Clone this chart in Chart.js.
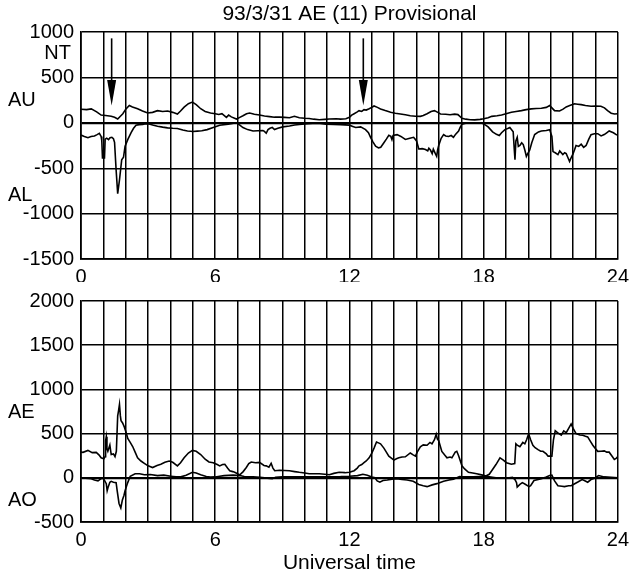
<!DOCTYPE html>
<html><head><meta charset="utf-8">
<script src="https://cdn.jsdelivr.net/npm/chart.js@4.4.1/dist/chart.umd.min.js"></script>
<style>
html,body{margin:0;padding:0;background:#fff;}
#wrap{position:relative;width:635px;height:574px;background:#fff;}
canvas{position:absolute;left:0;}
#c1{top:0;} #c2{top:282px;}
</style></head><body>
<div id="wrap"><canvas id="c1" width="635" height="282"></canvas><canvas id="c2" width="635" height="292"></canvas></div>
<script>
// ---------------- data ----------------
const titleText = '93/3/31 AE (11) Provisional';
const xTitle = 'Universal time';
const xTickLabels = [0, 6, 12, 18, 24];
const topYTicks = [-1500, -1000, -500, 0, 500, 1000];
const bottomYTicks = [-500, 0, 500, 1000, 1500, 2000];

const auTime = [0.0,0.25,0.46,0.7,0.9,1.1,1.35,1.5,1.64,1.75,1.87,2.0,2.16,2.3,2.53,2.75,2.98,3.2,3.42,3.65,3.87,4.1,4.31,4.45,4.61,4.8,4.98,5.15,5.35,5.55,5.79,6.0,6.16,6.3,6.5,6.6,6.72,6.95,7.1,7.24,7.4,7.54,7.75,7.98,8.2,8.43,8.65,8.88,9.1,9.32,9.54,9.76,10.0,10.2,10.4,10.65,10.9,11.1,11.4,11.6,11.84,12.0,12.1,12.21,12.35,12.43,12.55,12.65,12.75,12.88,13.0,13.1,13.25,13.39,13.6,13.84,14.05,14.28,14.5,14.72,14.95,15.17,15.3,15.47,15.65,15.8,15.95,16.07,16.3,16.5,16.7,16.85,17.03,17.2,17.4,17.6,17.84,18.0,18.2,18.36,18.6,18.8,19.0,19.24,19.45,19.69,19.9,20.13,20.35,20.58,20.8,20.95,21.05,21.17,21.39,21.55,21.69,21.85,22.06,22.2,22.36,22.55,22.8,23.0,23.24,23.4,23.54,23.7,23.85,24.0];
const auValues = [150,145,153,120,85,80,72,60,42,70,100,150,190,175,155,130,108,115,134,125,130,115,97,130,172,210,228,200,155,125,108,100,92,100,60,85,65,41,60,78,100,108,95,85,75,68,62,62,60,55,71,55,50,48,40,34,38,42,45,40,45,60,85,100,120,134,125,145,140,155,170,185,170,153,135,116,105,97,88,78,72,71,80,100,125,134,115,97,95,88,95,90,49,40,34,32,38,45,55,71,78,85,100,116,125,134,145,153,158,160,170,190,165,134,130,150,175,190,209,205,200,190,183,185,183,165,134,105,97,100];

const alTime = [0.0,0.15,0.31,0.45,0.6,0.72,0.82,0.9,0.93,0.96,1.05,1.08,1.15,1.23,1.3,1.38,1.45,1.5,1.57,1.64,1.72,1.82,1.9,1.97,2.1,2.24,2.35,2.46,2.6,2.76,2.9,3.05,3.2,3.42,3.65,3.87,4.1,4.31,4.55,4.76,5.0,5.2,5.4,5.64,5.91,6.2,6.58,6.95,7.1,7.24,7.45,7.69,7.9,8.13,8.2,8.28,8.36,8.45,8.55,8.65,8.8,9.02,9.32,9.55,9.76,10.0,10.36,10.6,10.95,11.3,11.6,12.0,12.15,12.28,12.5,12.72,12.85,12.95,13.05,13.17,13.3,13.4,13.54,13.65,13.76,13.85,13.9,13.95,14.13,14.3,14.5,14.7,14.87,15.0,15.1,15.25,15.4,15.5,15.55,15.62,15.7,15.75,15.84,15.9,15.94,15.99,16.1,16.21,16.3,16.43,16.55,16.65,16.75,16.88,16.95,17.03,17.2,17.54,17.9,18.05,18.2,18.4,18.57,18.7,18.8,18.95,19.1,19.17,19.32,19.37,19.4,19.44,19.5,19.55,19.62,19.7,19.77,19.84,19.91,19.97,20.06,20.15,20.28,20.45,20.58,20.8,20.95,21.05,21.1,21.2,21.32,21.4,21.54,21.62,21.69,21.76,21.84,21.92,21.99,22.06,22.13,22.25,22.36,22.47,22.58,22.7,22.8,22.95,23.1,23.25,23.39,23.5,23.61,23.8,23.96];
const alValues = [-135,-150,-164,-150,-145,-130,-116,-150,-200,-388,-388,-180,-170,-185,-165,-160,-175,-215,-519,-780,-630,-407,-380,-258,-180,-108,-60,-26,-20,-18,-10,-12,-25,-38,-48,-56,-60,-62,-80,-90,-95,-92,-88,-75,-52,-26,-15,0,-25,-52,-75,-90,-88,-85,-95,-115,-75,-60,-50,-75,-60,-45,-35,-25,-19,-12,-7,-5,-15,-18,-20,-26,-40,-52,-45,-75,-110,-164,-210,-258,-276,-270,-220,-180,-138,-150,-185,-140,-130,-150,-183,-170,-160,-200,-288,-285,-295,-310,-280,-300,-340,-290,-340,-370,-300,-250,-170,-130,-145,-150,-140,-160,-125,-90,-50,-15,-5,0,0,-20,-45,-100,-127,-140,-110,-75,-60,-52,-100,-300,-407,-200,-160,-260,-250,-220,-240,-300,-370,-340,-300,-220,-130,-100,-90,-85,-75,-150,-317,-330,-350,-310,-350,-330,-340,-380,-425,-380,-345,-300,-250,-260,-235,-270,-250,-180,-130,-120,-120,-145,-130,-110,-90,-110,-135];

const aeTime = [0.0,0.09,0.31,0.5,0.68,0.8,0.9,1.02,1.08,1.1,1.13,1.16,1.2,1.29,1.35,1.45,1.52,1.58,1.64,1.68,1.72,1.76,1.79,1.86,1.94,2.03,2.09,2.2,2.31,2.42,2.53,2.68,2.83,3.0,3.2,3.4,3.57,3.75,3.94,4.1,4.31,4.45,4.61,4.8,4.98,5.15,5.35,5.55,5.72,5.91,6.09,6.2,6.33,6.43,6.55,6.65,6.78,6.87,7.0,7.1,7.25,7.39,7.5,7.61,7.8,7.98,8.18,8.28,8.4,8.5,8.58,8.66,8.88,9.1,9.32,9.55,9.76,10.0,10.2,10.65,10.9,11.1,11.3,11.54,11.8,12.0,12.21,12.35,12.43,12.55,12.65,12.75,12.88,13.0,13.1,13.21,13.3,13.39,13.54,13.65,13.76,13.99,14.1,14.21,14.35,14.5,14.72,14.85,14.95,15.05,15.17,15.3,15.47,15.6,15.69,15.8,15.88,15.93,15.99,16.13,16.25,16.36,16.5,16.58,16.73,16.8,16.88,17.03,17.15,17.32,17.51,17.69,17.96,18.1,18.25,18.36,18.55,18.73,18.88,19.02,19.24,19.39,19.44,19.5,19.62,19.75,19.84,19.92,20.01,20.1,20.2,20.3,20.43,20.55,20.65,20.8,20.88,21.05,21.12,21.2,21.3,21.47,21.58,21.69,21.8,21.91,22.0,22.13,22.3,22.43,22.55,22.65,22.8,22.88,23.0,23.1,23.25,23.39,23.5,23.61,23.75,23.84,23.92,24.0];
const aeValues = [290,288,310,285,288,260,226,215,240,420,463,330,300,370,263,270,240,300,701,760,829,700,646,620,573,500,445,400,354,290,226,190,164,135,116,140,153,175,190,175,135,170,226,280,310,300,263,210,179,171,150,135,150,153,110,80,70,62,45,33,70,116,160,179,170,175,140,135,120,164,110,80,85,82,80,70,62,55,45,45,40,35,50,62,58,62,80,110,135,150,171,190,226,280,336,405,395,384,336,290,245,200,215,226,235,238,281,260,245,300,351,372,368,400,384,430,493,440,420,299,260,226,235,226,290,300,250,135,100,62,55,45,30,20,40,80,150,226,200,171,153,160,384,370,351,400,384,430,497,430,368,340,318,300,300,270,245,245,430,532,510,482,530,510,560,609,560,500,485,482,470,463,400,368,330,299,300,305,290,290,240,208,220,240];

const aoTime = [0.0,0.2,0.46,0.6,0.76,0.9,0.98,1.05,1.13,1.17,1.22,1.29,1.35,1.45,1.57,1.62,1.7,1.78,1.85,1.92,1.97,2.08,2.2,2.42,2.62,2.83,3.1,3.42,3.7,4.01,4.25,4.46,4.7,4.98,5.15,5.35,5.6,5.79,6.0,6.2,6.4,6.8,7.1,7.3,7.69,8.0,8.43,8.55,8.7,9.0,9.61,10.0,10.36,10.8,11.1,11.6,12.0,12.36,12.6,12.8,13.0,13.14,13.24,13.36,13.5,13.69,13.9,14.1,14.35,14.58,14.85,15.1,15.3,15.47,15.7,15.91,16.03,16.21,16.45,16.65,16.92,17.03,17.54,18.1,18.55,19.14,19.29,19.4,19.47,19.5,19.62,19.73,19.84,20.03,20.1,20.25,20.58,20.8,20.95,21.05,21.17,21.32,21.5,21.61,21.8,21.91,22.05,22.21,22.4,22.5,22.65,22.8,22.95,23.14,23.39,23.7,24.0];
const aoValues = [0,-5,-10,-25,-35,-10,-5,-30,-66,-146,-100,-50,-40,-50,-55,-150,-290,-340,-250,-200,-146,-60,18,45,45,35,38,25,30,18,10,11,30,62,55,35,15,8,10,18,25,30,25,15,10,5,-7,-10,5,10,12,12,12,12,12,14,18,25,40,30,10,0,-35,-50,-30,-25,-15,-10,-20,-25,-40,-75,-90,-100,-80,-66,-55,-40,-25,-15,15,11,11,18,0,0,5,-20,-55,-105,-75,-55,-70,-100,-90,-30,-10,10,25,30,-35,-90,-95,-100,-90,-90,-70,-48,-20,-30,-50,-20,-5,25,10,5,0];

// annotation labels (text, value on y scale)
const topSideLabels = [['NT', 760, 'right'], ['AU', 250, 'left'], ['AL', -795, 'left']];
const bottomSideLabels = [['AE', 734, 'left'], ['AO', -252, 'left']];
const arrowTimes = [1.37, 12.62];
const arrowFrom = 930, arrowHeadStart = 470, arrowTip = 190;

// ---------------- helpers ----------------
const FONT = "'Liberation Sans', Arial, Helvetica, sans-serif";
const pts = (t, v) => t.map((x, i) => ({x: x, y: v[i]}));

function scalesFor(yTicks, xAxisHeight) {
  return {
    x: {
      type: 'linear', min: 0, max: 24,
      ticks: {
        stepSize: 1, autoSkip: false, maxRotation: 0, minRotation: 0,
        color: '#000', padding: 6, font: {family: FONT, size: 20},
        callback: v => xTickLabels.includes(v) ? String(v) : ''
      },
      grid: {color: '#000', lineWidth: 1.5, drawTicks: false},
      border: {color: '#000', width: 1.7},
      afterFit: s => { s.height = xAxisHeight; }
    },
    y: {
      min: yTicks[0], max: yTicks[yTicks.length - 1],
      afterBuildTicks: s => { s.ticks = yTicks.map(v => ({value: v})); },
      ticks: {color: '#000', padding: 7, font: {family: FONT, size: 20}, callback: v => String(v)},
      grid: {color: '#000', lineWidth: c => (c.tick && c.tick.value === 0) ? 2.2 : 1.4, drawTicks: false},
      border: {color: '#000', width: 1.7},
      afterFit: s => { s.width = 81; }
    }
  };
}

function lineDS(data) {
  return {data: data, borderColor: '#000', borderWidth: 1.6, pointRadius: 0, tension: 0, fill: false, showLine: true};
}

function sideLabelPlugin(labels, extra) {
  return {
    id: 'sideLabels',
    afterDraw(chart) {
      const ctx = chart.ctx, ys = chart.scales.y;
      ctx.save();
      ctx.fillStyle = '#000';
      ctx.font = '20px ' + FONT;
      ctx.textBaseline = 'middle';
      labels.forEach(([txt, v, al]) => {
        ctx.textAlign = al;
        ctx.fillText(txt, al === 'right' ? 71 : 8, ys.getPixelForValue(v));
      });
      ctx.restore();
      if (extra) extra(chart);
    }
  };
}

// ---------------- top chart ----------------
new Chart(document.getElementById('c1'), {
  type: 'scatter',
  data: {datasets: [lineDS(pts(auTime, auValues)), lineDS(pts(alTime, alValues))]},
  options: {
    responsive: false, animation: false,
    layout: {padding: {top: 32, right: 14, left: 0, bottom: 0}},
    plugins: {legend: {display: false}, tooltip: {enabled: false}, title: {display: false}},
    scales: scalesFor(topYTicks, 23)
  },
  plugins: [sideLabelPlugin(topSideLabels, chart => {
    const ctx = chart.ctx, xs = chart.scales.x, ys = chart.scales.y, a = chart.chartArea;
    ctx.save();
    ctx.fillStyle = '#000';
    ctx.font = '21px ' + FONT;
    ctx.textAlign = 'center';
    ctx.textBaseline = 'middle';
    ctx.fillText(titleText, (a.left + a.right) / 2, 14);
    ctx.strokeStyle = '#000';
    ctx.lineWidth = 1.6;
    arrowTimes.forEach(t => {
      const x = xs.getPixelForValue(t);
      const y0 = ys.getPixelForValue(arrowFrom), yh = ys.getPixelForValue(arrowHeadStart), y1 = ys.getPixelForValue(arrowTip);
      ctx.beginPath(); ctx.moveTo(x, y0); ctx.lineTo(x, yh); ctx.stroke();
      ctx.beginPath(); ctx.moveTo(x - 4.5, yh); ctx.lineTo(x + 4.5, yh); ctx.lineTo(x, y1); ctx.closePath(); ctx.fill();
    });
    ctx.restore();
  })]
});

// ---------------- bottom chart ----------------
new Chart(document.getElementById('c2'), {
  type: 'scatter',
  data: {datasets: [lineDS(pts(aeTime, aeValues)), lineDS(pts(aoTime, aoValues))]},
  options: {
    responsive: false, animation: false,
    layout: {padding: {top: 13, right: 14, left: 0, bottom: 0}},
    plugins: {legend: {display: false}, tooltip: {enabled: false}, title: {display: false}},
    scales: scalesFor(bottomYTicks, 52)
  },
  plugins: [sideLabelPlugin(bottomSideLabels, chart => {
    const ctx = chart.ctx, a = chart.chartArea;
    ctx.save();
    ctx.fillStyle = '#000';
    ctx.font = '21px ' + FONT;
    ctx.textAlign = 'center';
    ctx.textBaseline = 'middle';
    ctx.fillText(xTitle, (a.left + a.right) / 2, 281);
    ctx.restore();
  })]
});
</script>
</body></html>
